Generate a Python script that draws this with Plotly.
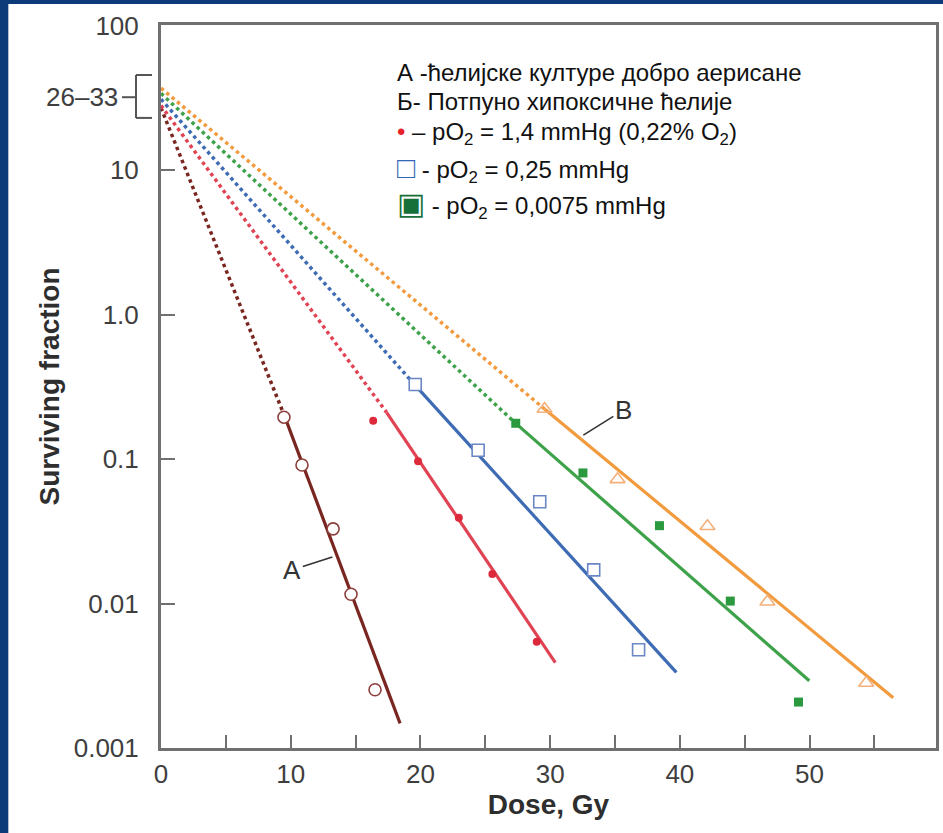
import math
import plotly.graph_objects as go

# ---------------- data ----------------
# A: well-aerated cells (open circles)
dose_A = [9.48, 10.87, 13.27, 14.65, 16.5]
sf_A = [0.195, 0.091, 0.0329, 0.0116, 0.00253]
# pO2 = 1.4 mmHg (filled red dots)
dose_red = [16.36, 19.82, 22.96, 25.55, 28.97]
sf_red = [0.184, 0.0966, 0.0392, 0.0160, 0.00543]
# pO2 = 0.25 mmHg (open blue squares)
dose_blue = [19.6, 24.45, 29.2, 33.36, 36.82]
sf_blue = [0.328, 0.115, 0.0507, 0.0171, 0.00479]
# pO2 = 0.0075 mmHg (filled green squares)
dose_green = [27.35, 32.53, 38.43, 43.89, 49.15]
sf_green = [0.177, 0.0802, 0.0346, 0.0104, 0.00208]
# B: fully hypoxic cells (open triangles)
dose_B = [29.57, 35.2, 42.13, 46.75, 54.37]
sf_B = [0.222, 0.0724, 0.0343, 0.0103, 0.00282]

# fitted lines: [extrapolated start, start of solid part, end]
line_A_dose = [0, 9.52, 18.43]
line_A_sf = [27, 0.199, 0.00148]
line_red_dose = [0, 17.4, 30.4]
line_red_sf = [28, 0.21, 0.0039]
line_blue_dose = [0, 19.64, 39.73]
line_blue_sf = [31, 0.321, 0.00334]
line_green_dose = [0, 27.35, 49.98]
line_green_sf = [34, 0.1766, 0.00292]
line_B_dose = [0, 29.57, 56.45]
line_B_sf = [37, 0.2223, 0.00223]

x_tickvals = [0, 5, 10, 15, 20, 25, 30, 35, 40, 45, 50, 55]
x_ticktext = ["0", "", "10", "", "20", "", "30", "", "40", "", "50", ""]
y_tickvals = [0.001, 0.01, 0.1, 1, 10, 100]
y_ticktext = ["0.001", "0.01", "0.1", "1.0", "10", "100"]

bracket_label = "26–33"
bracket_sf = [23, 45.6]
bracket_mid = 32

label_A_pos = (13.21, 0.021)
label_B_pos = (32.56, 0.1466)

legend_lines = [
    "А -ћелијске културе добро аерисане",
    "Б- Потпуно хипоксичне ћелије",
    "<span style='color:#e8202a'>•</span> – pO<sub>2</sub> = 1,4 mmHg (0,22% O<sub>2</sub>)",
    "<span style='color:#2f66b8;font-size:30px'>□</span> - pO<sub>2</sub> = 0,25 mmHg",
    "<span style='color:#17703a;font-size:30px'>▣</span> - pO<sub>2</sub> = 0,0075 mmHg",
]

# ---------------- styles ----------------
series = [
    dict(ld=line_A_dose, ls=line_A_sf, d=dose_A, s=sf_A, lc="#7a2620",
         marker=dict(symbol="circle", size=12, color="white",
                     line=dict(color="#8e3f3c", width=1.6))),
    dict(ld=line_red_dose, ls=line_red_sf, d=dose_red, s=sf_red, lc="#e04454",
         marker=dict(symbol="circle", size=8, color="#dc2a3c",
                     line=dict(width=0))),
    dict(ld=line_blue_dose, ls=line_blue_sf, d=dose_blue, s=sf_blue, lc="#3d6bb4",
         marker=dict(symbol="square", size=12, color="white",
                     line=dict(color="#6a86c4", width=1.6))),
    dict(ld=line_green_dose, ls=line_green_sf, d=dose_green, s=sf_green, lc="#3ea24a",
         marker=dict(symbol="square", size=9, color="#2b9a3e",
                     line=dict(width=0))),
    dict(ld=line_B_dose, ls=line_B_sf, d=dose_B, s=sf_B, lc="#f29b3e",
         marker=dict(symbol="triangle-up-open", size=13, color="#f3b07a",
                     line=dict(color="#f3b07a", width=1.6))),
]

fig = go.Figure()
for sr in series:
    fig.add_trace(go.Scatter(x=sr["ld"][:2], y=sr["ls"][:2], mode="lines",
                             line=dict(color=sr["lc"], width=3.5, dash="dot"),
                             hoverinfo="skip"))
    fig.add_trace(go.Scatter(x=sr["ld"][1:], y=sr["ls"][1:], mode="lines",
                             line=dict(color=sr["lc"], width=3.2)))
for sr in series:
    fig.add_trace(go.Scatter(x=sr["d"], y=sr["s"], mode="markers",
                             marker=sr["marker"]))

axis_col = "#707070"
tick_font = dict(family="Liberation Sans, Arial, sans-serif", size=26, color="#3e3e3e")
title_font = dict(family="Liberation Sans, Arial, sans-serif", size=28, color="#2e2e2e")

fig.update_layout(
    width=943, height=833,
    margin=dict(l=161, r=4, t=25, b=85),
    paper_bgcolor="#0d3a78",
    plot_bgcolor="white",
    showlegend=False,
    xaxis=dict(range=[0, 59.75], tickvals=x_tickvals, ticktext=x_ticktext,
               ticks="inside", ticklen=13, tickwidth=2, tickcolor=axis_col,
               showline=True, linewidth=3, linecolor=axis_col, mirror=True,
               showgrid=False, zeroline=False, tickfont=tick_font,
               ticklabelstandoff=1,
               title=dict(text="<b>Dose, Gy</b>", font=title_font, standoff=6)),
    yaxis=dict(type="log", range=[-3, 2.005], tickvals=y_tickvals, ticktext=y_ticktext,
               ticks="inside", ticklen=14, tickwidth=2, tickcolor=axis_col,
               showline=True, linewidth=3, linecolor=axis_col, mirror=True,
               showgrid=False, zeroline=False, tickfont=tick_font,
               ticklabelstandoff=14,
               title=dict(text="<b>Surviving fraction</b>", font=title_font, standoff=6)),
)

# white panel behind the figure
fig.add_shape(type="rect", xref="paper", yref="paper", x0=-0.197, x1=1.02,
              y0=-0.2, y1=1.029, fillcolor="white", line=dict(width=0), layer="below")

# bracket "26-33"
ylo, yhi, ymid = bracket_sf[0], bracket_sf[1], bracket_mid
bline = dict(color="#555555", width=2)
for (x0, y0, x1, y1) in [(-25, ylo, -25, yhi), (-25, yhi, -9, yhi),
                         (-25, ylo, -9, ylo), (-39, ymid, -25, ymid)]:
    fig.add_shape(type="line", xref="paper", xsizemode="pixel", xanchor=0,
                  x0=x0, x1=x1, yref="y", y0=y0, y1=y1, line=bline)
fig.add_annotation(text=bracket_label, xref="paper", x=0, xanchor="right", xshift=-41,
                   yref="y", y=math.log10(bracket_mid), yanchor="middle",
                   showarrow=False, font=tick_font)

# curve labels A and B
lab_font = dict(family="Liberation Sans, Arial, sans-serif", size=26, color="#333333")
fig.add_annotation(text="A", x=label_A_pos[0], y=math.log10(label_A_pos[1]),
                   ax=-40, ay=13, showarrow=True, arrowhead=0, arrowwidth=1.6,
                   arrowcolor="#333333", font=lab_font)
fig.add_annotation(text="B", x=label_B_pos[0], y=math.log10(label_B_pos[1]),
                   ax=40, ay=-25, showarrow=True, arrowhead=0, arrowwidth=1.6,
                   arrowcolor="#333333", font=lab_font)

# legend text block
leg_font = dict(family="Liberation Sans, Arial, sans-serif", size=24, color="#111111")
leg_y = [72.5, 101, 133, 169, 205]
for txt, py in zip(legend_lines, leg_y):
    fig.add_annotation(text=txt, xref="paper", yref="paper", x=0, y=1,
                       xshift=395 - 161, yshift=-(py - 25),
                       xanchor="left", yanchor="middle", showarrow=False,
                       align="left", font=leg_font)

fig.write_html("out.html")
